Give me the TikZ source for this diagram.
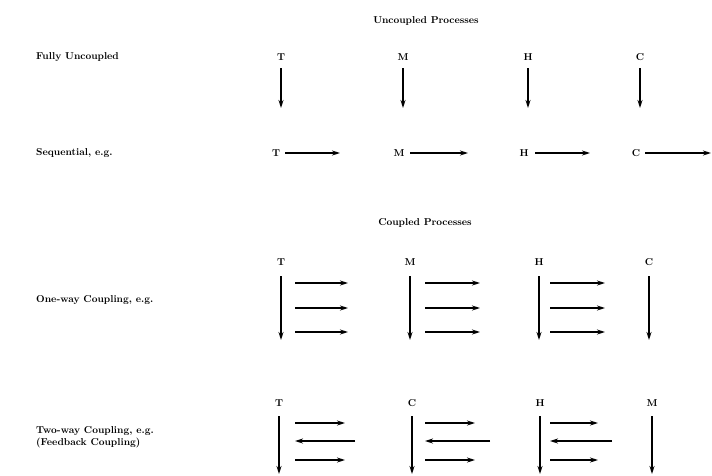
\documentclass[tikz,border=0pt]{standalone}
\usetikzlibrary{arrows.meta}
\begin{document}
\begin{tikzpicture}[x=1pt,y=-1pt,
  lbl/.style={font=\fontsize{10}{12}\selectfont\bfseries, inner sep=0pt},
  rowlbl/.style={lbl, anchor=west, align=left},
  head/.style={lbl},
  arr/.style={line width=1.3pt, -{Stealth[length=8pt,width=5pt]}}]
\useasboundingbox (0,0) rectangle (712,475);
% headings
\node[head] (hu) at (426,21) {Uncoupled Processes};
\node[head] (hc) at (425,223) {Coupled Processes};
% row labels
\node[rowlbl] (r1) at (36,57) {Fully Uncoupled};
\node[rowlbl] (r2) at (36,153) {Sequential, e.g.};
\node[rowlbl] (r3) at (36,300) {One-way Coupling, e.g.};
\node[rowlbl, anchor=north west] (r4) at (36,426) {Two-way Coupling, e.g.\\(Feedback Coupling)};
% row 1
\foreach \n/\x/\t in {a/281/T, b/403/M, c/528/H, d/640/C}{
  \node[lbl] (u\n) at (\x,57) {\t};
  \coordinate (u\n e) at (\x,108);
  \draw[arr] (\x,68) -- (u\n e);
}
% row 2
\foreach \n/\x/\s/\e/\t in {a/276/285/340/T, b/399/410/468/M, c/524/535/590/H, d/636/645/711/C}{
  \node[lbl] (s\n) at (\x,153) {\t};
  \coordinate (s\n e) at (\e,153);
  \draw[arr] (\s,153) -- (s\n e);
}
% row 3
\foreach \n/\x/\t in {a/281/T, b/410/M, c/539/H, d/649/C}{
  \node[lbl] (o\n) at (\x,262) {\t};
  \coordinate (o\n e) at (\x,340);
  \draw[arr] (\x,276) -- (o\n e);
}
\foreach \s/\e in {295/348, 425/480, 550/605}{
  \foreach \y in {283,308,332}{
    \draw[arr] (\s,\y) -- (\e,\y);
  }
}
% row 4
\foreach \n/\x/\t in {a/279/T, b/412/C, c/540/H, d/652/M}{
  \node[lbl] (w\n) at (\x,403) {\t};
  \coordinate (w\n e) at (\x,474);
  \draw[arr] (\x,416) -- (w\n e);
}
\foreach \s/\e/\l in {295/345/355, 425/475/490, 550/598/612}{
  \draw[arr] (\s,423) -- (\e,423);
  \draw[arr] (\l,441) -- (\s,441);
  \draw[arr] (\s,460) -- (\e,460);
}
\end{tikzpicture}
\end{document}
